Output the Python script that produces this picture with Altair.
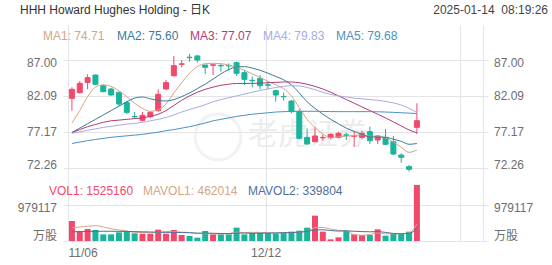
import altair as alt
import pandas as pd

# ---------------- data ----------------
dates = ["11/06", "11/07", "11/08", "11/11", "11/12", "11/13", "11/14", "11/15", "11/18", "11/19",
         "11/20", "11/21", "11/22", "11/25", "11/26", "11/27", "11/29", "12/02", "12/03", "12/04",
         "12/05", "12/06", "12/09", "12/10", "12/11", "12/12", "12/13", "12/16", "12/17", "12/18",
         "12/19", "12/20", "12/23", "12/24", "12/26", "12/27", "12/30", "12/31", "01/02", "01/03",
         "01/06", "01/07", "01/08", "01/10", "01/13"]

opens = [81.77, 82.54, 83.95, 84.95, 83.50, 83.04, 82.59, 81.18, 79.30, 78.77,
         79.27, 80.08, 83.04, 84.86, 86.40, 87.38, 87.55, 86.32, 86.28, 86.26,
         86.26, 86.64, 85.27, 84.23, 84.50, 83.62, 82.81, 82.03, 81.40, 79.95,
         76.44, 75.85, 76.38, 76.40, 76.44, 76.78, 76.60, 76.44, 77.22, 76.08,
         76.44, 75.85, 74.03, 72.44, 77.81]
highs = [83.27, 84.13, 85.04, 85.00, 83.68, 83.22, 82.68, 81.45, 79.90, 79.90,
         80.04, 83.00, 84.27, 87.55, 87.00, 87.82, 87.68, 86.32, 86.40, 86.55,
         86.55, 86.77, 85.64, 84.73, 84.95, 84.04, 82.91, 82.54, 81.54, 80.27,
         77.67, 77.90, 76.76, 76.99, 77.22, 77.08, 77.31, 77.31, 77.90, 76.76,
         77.58, 76.63, 74.26, 72.67, 81.09]
lows = [80.08, 82.45, 83.00, 83.59, 82.59, 82.13, 80.72, 79.58, 78.95, 78.58,
        79.04, 79.95, 82.91, 84.73, 86.00, 86.77, 86.64, 85.09, 84.95, 85.41,
        85.54, 84.82, 83.59, 83.27, 83.00, 83.00, 81.31, 81.45, 79.72, 76.17,
        75.40, 75.85, 75.99, 76.17, 76.31, 76.08, 75.17, 76.17, 75.54, 75.54,
        75.40, 74.03, 72.99, 71.76, 76.90]
closes = [83.00, 83.82, 84.59, 83.68, 82.68, 82.22, 80.99, 79.86, 79.25, 79.45,
          79.86, 82.31, 83.91, 86.23, 86.48, 87.32, 87.00, 86.00, 86.35, 86.20,
          86.20, 85.18, 84.36, 84.17, 83.50, 83.57, 82.22, 81.98, 79.95, 76.31,
          75.54, 76.63, 76.43, 76.85, 76.99, 76.73, 76.65, 76.99, 75.99, 76.63,
          75.49, 74.17, 73.72, 72.08, 78.72]
volumes = [544000, 272000, 326000, 299000, 181000, 181000, 236000, 272000, 208000, 199000,
           199000, 308000, 199000, 299000, 163000, 136000, 91000, 272000, 181000, 181000,
           181000, 363000, 180000, 218000, 218000, 218000, 208000, 236000, 254000, 281000,
           363000, 689000, 254000, 45000, 100000, 281000, 181000, 163000, 163000, 317000,
           145000, 190000, 190000, 254000, 1525160]

ma1 = [78.4, 80.1, 82.0, 83.3, 83.6, 83.4, 82.8, 82.0, 81.1, 80.4,
       80.0, 80.2, 81.0, 82.5, 83.9, 85.2, 86.1, 86.5, 86.55, 86.5,
       86.3, 86.0, 85.6, 85.1, 84.6, 84.1, 83.6, 83.1, 82.1, 80.5,
       78.9, 77.8, 76.9, 76.4, 76.5, 76.6, 76.7, 76.8, 76.6, 76.6,
       76.35, 75.8, 75.1, 74.4, 74.71]
ma2 = [77.1, 77.7, 78.3, 78.9, 79.5, 80.1, 80.7, 81.3, 81.8, 81.95,
       81.7, 81.5, 81.4, 81.6, 82.0, 82.5, 83.1, 83.7, 84.4, 85.1,
       85.7, 86.05, 86.1, 85.9, 85.6, 85.2, 84.75, 84.3, 83.6, 82.5,
       81.3, 80.4, 79.6, 78.9, 78.3, 77.7, 77.25, 76.85, 76.5, 76.5,
       76.45, 76.2, 75.9, 75.5, 75.60]
ma3 = [77.1, 77.5, 77.9, 78.2, 78.5, 78.7, 78.8, 78.9, 79.0, 79.1,
       79.3, 79.6, 80.1, 80.8, 81.5, 82.1, 82.6, 83.0, 83.3, 83.55,
       83.7, 83.8, 83.8, 83.8, 83.85, 83.9, 83.95, 84.0, 84.0, 83.9,
       83.7, 83.4, 83.05, 82.6, 82.1, 81.6, 81.1, 80.6, 80.1, 79.6,
       79.1, 78.55, 78.0, 77.45, 77.07]
ma4 = [77.0, 77.2, 77.4, 77.6, 77.8, 77.95, 78.1, 78.25, 78.35, 78.5,
       78.7, 78.9, 79.15, 79.5, 79.9, 80.25, 80.55, 80.9, 81.3, 81.6,
       81.85, 82.1, 82.35, 82.6, 82.85, 83.05, 83.25, 83.4, 83.5, 83.45,
       83.25, 82.95, 82.6, 82.3, 82.1, 81.95, 81.8, 81.7, 81.6, 81.5,
       81.35, 81.15, 80.85, 80.4, 79.83]
ma5 = [75.6, 75.8, 76.0, 76.15, 76.3, 76.45, 76.55, 76.65, 76.75, 76.85,
       77.0, 77.15, 77.35, 77.5, 77.7, 77.9, 78.15, 78.4, 78.7, 78.9,
       79.1, 79.3, 79.45, 79.6, 79.7, 79.8, 79.9, 79.95, 79.98, 80.0,
       80.0, 80.0, 79.98, 79.96, 79.95, 79.95, 79.95, 79.95, 79.95, 79.93,
       79.9, 79.85, 79.8, 79.75, 79.68]
mavol1 = [363000, 380000, 400000, 417000, 380000, 330000, 300000, 272000, 236000, 230000,
          227000, 236000, 254000, 254000, 240000, 230000, 200000, 200000, 190000, 190000,
          200000, 240000, 230000, 235000, 235000, 225000, 220000, 225000, 230000, 240000,
          260000, 365000, 368000, 326000, 290000, 274000, 172000, 155000, 178000, 220000,
          194000, 196000, 201000, 219000, 462014]
mavol2 = [250000, 255000, 260000, 265000, 265000, 265000, 262000, 260000, 255000, 250000,
          245000, 240000, 235000, 235000, 230000, 225000, 215000, 215000, 210000, 205000,
          200000, 215000, 215000, 210000, 212000, 215000, 220000, 225000, 230000, 240000,
          260000, 300000, 305000, 285000, 270000, 275000, 265000, 255000, 250000, 255000,
          234000, 205000, 195000, 205000, 339804]

price_ticks = [72.26, 77.17, 82.09, 87.00]
vol_ticks = [0, 979117]
x_tick_labels = ["11/06", "12/12"]
ma_names = ["MA1", "MA2", "MA3", "MA4", "MA5"]
ma_last = ["74.71", "75.60", "77.07", "79.83", "79.68"]
vol_names = ["VOL1", "MAVOL1", "MAVOL2"]
vol_last = ["1525160", "462014", "339804"]
title_text = "HHH Howard Hughes Holding - 日K"
time_text = "2025-01-14\u00a0 08:19:26"
watermark = "老虎证券"

# ---------------- styles ----------------
FONT = "Liberation Sans, Arial, Noto Sans CJK SC, sans-serif"
UP = "#f2496b"
DOWN = "#19b49c"
MA_COLORS = ["#d6a584", "#3e7a96", "#b23b76", "#aaaae6", "#4b92c3"]
VOL_COLORS = ["#f2496b", "#d6a584", "#4f6f9c"]
GRID = "#e4e4e4"
LABEL = "#6e6e6e"

df = pd.DataFrame({"i": list(range(len(dates))), "date": dates, "open": opens, "high": highs,
                   "low": lows, "close": closes, "vol": volumes})
df["dir"] = ["up" if c >= o else "down" for o, c in zip(opens, closes)]

ma_rows = []
for name, arr in zip(ma_names, [ma1, ma2, ma3, ma4, ma5]):
    for k, v in enumerate(arr):
        ma_rows.append({"i": k, "name": name, "value": v})
ma_df = pd.DataFrame(ma_rows)

mv_rows = []
for name, arr in zip(["MAVOL1", "MAVOL2"], [mavol1, mavol2]):
    for k, v in enumerate(arr):
        mv_rows.append({"i": k, "name": name, "value": v})
mv_df = pd.DataFrame(mv_rows)

cdomain = ["up", "down"] + ma_names + ["MAVOL1", "MAVOL2"]
crange = [UP, DOWN] + MA_COLORS + VOL_COLORS[1:]
cscale = alt.Scale(domain=cdomain, range=crange)

W, H = 425, 216
xscale = alt.Scale(domain=[-0.5, 52.43], nice=False, zero=False)
xaxis = alt.Axis(values=[-0.5, 24.7, 49.45, 52.43],
                 labelExpr="datum.value < 0 ? '%s' : (datum.value < 30 ? '%s' : '')" % tuple(x_tick_labels),
                 labelAlign={"condition": {"test": "datum.value < 0", "value": "left"}, "value": "center"},
                 grid=True, gridColor=GRID, ticks=False, domain=False,
                 labelOverlap=False, labelPadding=6, labelColor=LABEL, labelFontSize=12,
                 labelFont=FONT, title=None)
X = alt.X("i:Q", scale=xscale, axis=xaxis)

pscale = alt.Scale(domain=[62.297, 91.777], nice=False, zero=False)
paxis = alt.Axis(values=price_ticks, grid=True, gridColor=GRID, labels=False, ticks=False,
                 domain=False, title=None, orient="left")
vscale = alt.Scale(domain=[0, 5874702], nice=False, zero=False)
vaxis = alt.Axis(values=vol_ticks, grid=True, gridColor=GRID, labels=False, ticks=False,
                 domain=False, title=None, orient="right")


def label_at(text, x, y, color, size=12, align="left", font=FONT):
    return alt.Chart(pd.DataFrame({"t": [text]})).mark_text(
        align=align, baseline="middle", font=font, fontSize=size, color=color
    ).encode(x=alt.value(x), y=alt.value(y), text="t:N")


# ---------------- price panel ----------------
wm_ring = alt.Chart(pd.DataFrame({"t": [watermark]})).mark_point(
    shape="circle", size=2100, filled=False, stroke="#ededed", strokeWidth=3
).encode(x=alt.value(155), y=alt.value(112))
wm_text = label_at(watermark, 185, 110, "#ececec", size=30)

wick = alt.Chart(df).mark_rule(strokeWidth=1).encode(
    x=X, y=alt.Y("low:Q", scale=pscale, axis=paxis), y2="high:Q",
    color=alt.Color("dir:N", scale=cscale, legend=None))
body = alt.Chart(df).mark_bar(size=5, strokeWidth=1).encode(
    x=X, y=alt.Y("open:Q", scale=pscale, axis=paxis), y2="close:Q",
    color=alt.Color("dir:N", scale=cscale, legend=None),
    stroke=alt.Stroke("dir:N", scale=cscale, legend=None))
ma_lines = alt.Chart(ma_df).mark_line(strokeWidth=1, interpolate="monotone").encode(
    x=X, y=alt.Y("value:Q", scale=pscale, axis=paxis),
    color=alt.Color("name:N", scale=cscale, legend=None), detail="name:N")

price_layers = [wm_ring, wm_text, wick, body, ma_lines]
price_dy = {87.00: 3, 82.09: 0, 77.17: 0, 72.26: -3}
for p in price_ticks:
    for xpos, al in [(-6, "right"), (W + 6, "left")]:
        price_layers.append(
            alt.Chart(pd.DataFrame({"p": [p]})).mark_text(
                align=al, baseline="middle", dy=price_dy[p], font=FONT, fontSize=12, color=LABEL
            ).encode(x=alt.value(xpos), y=alt.Y("p:Q", scale=pscale, axis=paxis),
                     text=alt.Text("p:Q", format=".2f")))
price_group = alt.layer(*price_layers)

# ---------------- volume panel ----------------
vbars = alt.Chart(df).mark_bar(size=6).encode(
    x=X, y=alt.Y("vol:Q", scale=vscale, axis=vaxis),
    color=alt.Color("dir:N", scale=cscale, legend=None))
vlines = alt.Chart(mv_df).mark_line(strokeWidth=1, interpolate="monotone").encode(
    x=X, y=alt.Y("value:Q", scale=vscale, axis=vaxis),
    color=alt.Color("name:N", scale=cscale, legend=None), detail="name:N")
vol_layers = [vbars, vlines]
vol_label_text = {0: "万股", 979117: "979117"}
vol_dy = {0: -5, 979117: 3}
for v in vol_ticks:
    for xpos, al in [(-6, "right"), (W + 6, "left")]:
        vol_layers.append(
            alt.Chart(pd.DataFrame({"v": [v], "t": [vol_label_text[v]]})).mark_text(
                align=al, baseline="middle", dy=vol_dy[v], font=FONT, fontSize=12, color=LABEL
            ).encode(x=alt.value(xpos), y=alt.Y("v:Q", scale=vscale, axis=vaxis), text="t:N"))
vol_group = alt.layer(*vol_layers)

# ---------------- header & legends ----------------
texts = [
    label_at(title_text, -43, -15, "#333333", size=12),
    label_at(time_text, 485, -15, "#444444", size=12, align="right"),
]
ma_x = [-20, 54, 127, 200, 273]
for name, val, col, xx in zip(ma_names, ma_last, MA_COLORS, ma_x):
    texts.append(label_at(f"{name}: {val}", xx, 11, col))
vol_x = [-14, 80, 185]
for name, val, col, xx in zip(vol_names, vol_last, VOL_COLORS, vol_x):
    texts.append(label_at(f"{name}: {val}", xx, 166, col))

chart = alt.layer(price_group, vol_group, *texts).resolve_scale(y="independent").properties(
    width=W, height=H,
    padding={"left": 63, "top": 25, "right": 64, "bottom": 24},
    autosize=alt.AutoSizeParams(type="none"),
    background="white",
).configure_view(stroke=None)

chart.save("out.html", embed_options={"renderer": "svg", "actions": False})
